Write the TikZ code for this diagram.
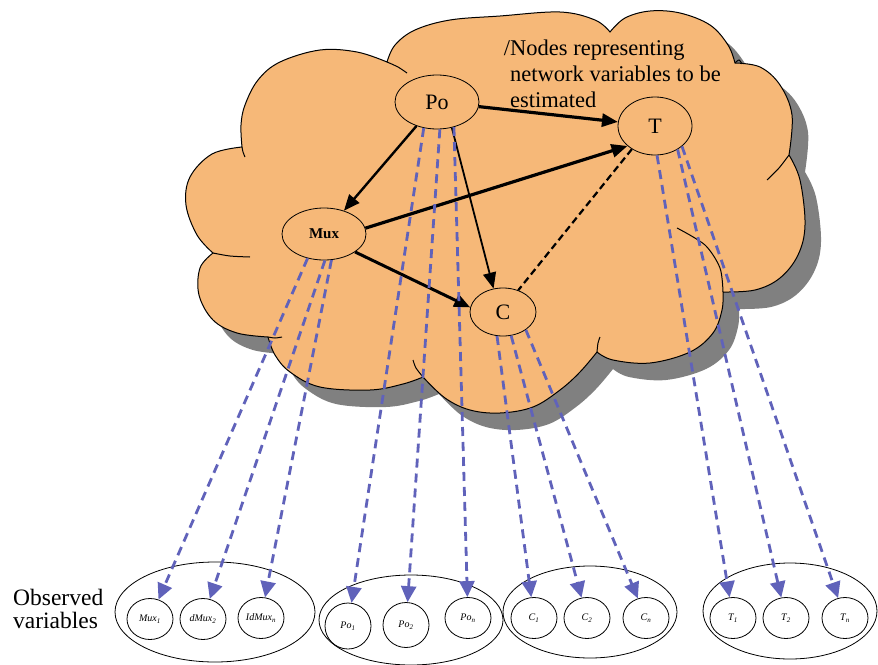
\documentclass[tikz,border=0pt]{standalone}
\usepackage{fontspec}
\setmainfont{Liberation Serif}
\usetikzlibrary{arrows.meta,shapes.geometric}
\definecolor{cloudfill}{RGB}{246,184,120}
\definecolor{cloudshadow}{RGB}{128,128,128}
\definecolor{obsblue}{RGB}{96,98,186}
\begin{document}
\begin{tikzpicture}[x=1pt,y=-1pt,
  bignode/.style={draw, ellipse, line width=0.8pt, inner sep=0pt, font=\fontsize{22}{24}\selectfont},
  smallnode/.style={draw, ellipse, line width=0.8pt, inner sep=0pt, minimum width=46pt, minimum height=41pt, font=\itshape\fontsize{10}{11}\selectfont},
  groupnode/.style={draw, ellipse, line width=0.8pt, inner sep=0pt},
  blackarrow/.style={draw=black, -{Triangle[length=16pt,width=13pt]}},
  bluearrow/.style={draw=obsblue, line width=2.8pt, dash pattern=on 9pt off 6pt, -{Triangle[length=16pt,width=15pt]}},
  cloudline/.style={draw=black, line width=1pt},
  curl/.style={draw=black, line width=1pt}]
\useasboundingbox (0,0) rectangle (878,664);

\def\cloudpath{
  plot[smooth, tension=0.6] coordinates {(242,147) (241,125) (245,105) (258,80) (280,62) (320,50) (357,52) (387,62)}
  -- plot[smooth, tension=0.6] coordinates {(387,62) (395,45) (415,30) (450,20) (500,16) (560,12) (595,20) (610,32)}
  -- plot[smooth, tension=0.6] coordinates {(610,32) (625,18) (650,11) (680,13) (710,25) (728,45) (735,63)}
  -- plot[smooth, tension=0.6] coordinates {(735,63) (760,67) (780,85) (792,115) (789,155)}
  -- plot[smooth, tension=0.6] coordinates {(789,155) (800,180) (805,225) (798,255) (780,278) (755,290) (723,292)}
  -- plot[smooth, tension=0.6] coordinates {(723,292) (722,310) (713,333) (690,352) (650,363) (613,360) (597,352)}
  -- plot[smooth, tension=0.6] coordinates {(597,352) (580,372) (560,390) (533,407) (500,413) (470,410) (445,398) (423,377)}
  -- plot[smooth, tension=0.6] coordinates {(423,377) (403,384) (370,390) (320,387) (290,372) (275,355) (268,337)}
  -- plot[smooth, tension=0.6] coordinates {(268,337) (237,333) (213,320) (199,295) (200,268) (213,253)}
  -- plot[smooth, tension=0.6] coordinates {(213,253) (197,235) (186,205) (190,177) (212,154) (242,147)}
  -- cycle}

% shadow
\begin{scope}[shift={(16,17)}]
  \path[fill=cloudshadow] \cloudpath;
\end{scope}
% cloud
\path[fill=cloudfill, cloudline] \cloudpath;
% inner curls
\draw[curl] plot[smooth] coordinates {(387,62) (398,67) (407,73)};
\draw[curl] plot[smooth] coordinates {(789,155) (779,168) (767,180)};
\draw[curl] plot[smooth] coordinates {(723,292) (720,268) (705,245) (677,228)};
\draw[curl] plot[smooth] coordinates {(597,352) (598,343) (600,337)};
\draw[curl] plot[smooth] coordinates {(423,377) (416,368) (413,360)};
\draw[curl] plot[smooth] coordinates {(268,337) (275,338) (282,337)};
\draw[curl] plot[smooth] coordinates {(213,253) (230,256) (250,257)};
\draw[curl] plot[smooth] coordinates {(242,147) (243,152) (245,157)};
\draw[curl] plot[smooth] coordinates {(735,63) (739,60) (742,64)};

% network nodes
\node[bignode, minimum width=84pt, minimum height=54pt] (po) at (437,102) {Po};
\node[bignode, minimum width=74pt, minimum height=58pt] (t) at (655,126) {T};
\node[bignode, minimum width=84pt, minimum height=52pt, font=\bfseries\fontsize{15}{16}\selectfont] (mux) at (324,234) {Mux};
\node[bignode, minimum width=66pt, minimum height=48pt] (c) at (503,312) {C};

% note
\node[anchor=north west, inner sep=0pt, align=left, font=\fontsize{22.5}{26}\selectfont] (note) at (510,40) {\llap{/}Nodes representing\\network variables to be\\estimated};

% black arrows
\draw[blackarrow, line width=3.2pt] (po) -- (t);
\draw[blackarrow, line width=2.4pt] (po) -- (mux);
\draw[blackarrow, line width=3.2pt] (mux.8) -- (t.216);
\draw[blackarrow, line width=3pt] (mux.330) -- (c.172);
\draw[blackarrow, line width=1.8pt] (po.300) -- (c.112);
\draw[line width=2.2pt, dash pattern=on 7pt off 4pt] (t.225) -- (c.55);

% groups of observed variables
\node[groupnode, minimum width=200pt, minimum height=100pt] (g1) at (215,612) {};
\node[groupnode, minimum width=184pt, minimum height=90pt] (g2) at (411,620) {};
\node[groupnode, minimum width=174pt, minimum height=92pt] (g3) at (590,612) {};
\node[groupnode, minimum width=174pt, minimum height=96pt] (g4) at (790,611) {};

\node[smallnode] (m1) at (150,619) {Mux\textsubscript{1}};
\node[smallnode] (m2) at (203,619) {dMux\textsubscript{2}};
\node[smallnode] (m3) at (261,618) {IdMux\textsubscript{n}};
\node[smallnode, minimum height=46pt] (p1) at (348,626) {Po\textsubscript{1}};
\node[smallnode, minimum height=45pt] (p2) at (406,625) {Po\textsubscript{2}};
\node[smallnode] (p3) at (468,618) {Po\textsubscript{n}};
\node[smallnode] (c1) at (534,618) {C\textsubscript{1}};
\node[smallnode] (c2) at (587,618) {C\textsubscript{2}};
\node[smallnode] (c3) at (646,618) {C\textsubscript{n}};
\node[smallnode] (t1) at (733,618) {T\textsubscript{1}};
\node[smallnode] (t2) at (786,618) {T\textsubscript{2}};
\node[smallnode] (t3) at (845,618) {T\textsubscript{n}};

\node[anchor=north west, inner sep=0pt, align=left, font=\fontsize{23.5}{23}\selectfont] (obs) at (13,589) {Observed\\variables};

% blue dashed arrows
\draw[bluearrow] (mux.236) -- (m1);
\draw[bluearrow] (mux.272) -- (m2);
\draw[bluearrow] (mux.286) -- (m3);
\draw[bluearrow] (po.243) -- (p1);
\draw[bluearrow] (po.276) -- (p2);
\draw[bluearrow] (po.304) -- (p3);
\draw[bluearrow] (c.256) -- (c1);
\draw[bluearrow] (c.289) -- (c2);
\draw[bluearrow] (c.322) -- (c3);
\draw[bluearrow] (t.274) -- (t1);
\draw[bluearrow] (t.314) -- (t2);
\draw[bluearrow] (t.323) -- (t3);
\end{tikzpicture}
\end{document}
